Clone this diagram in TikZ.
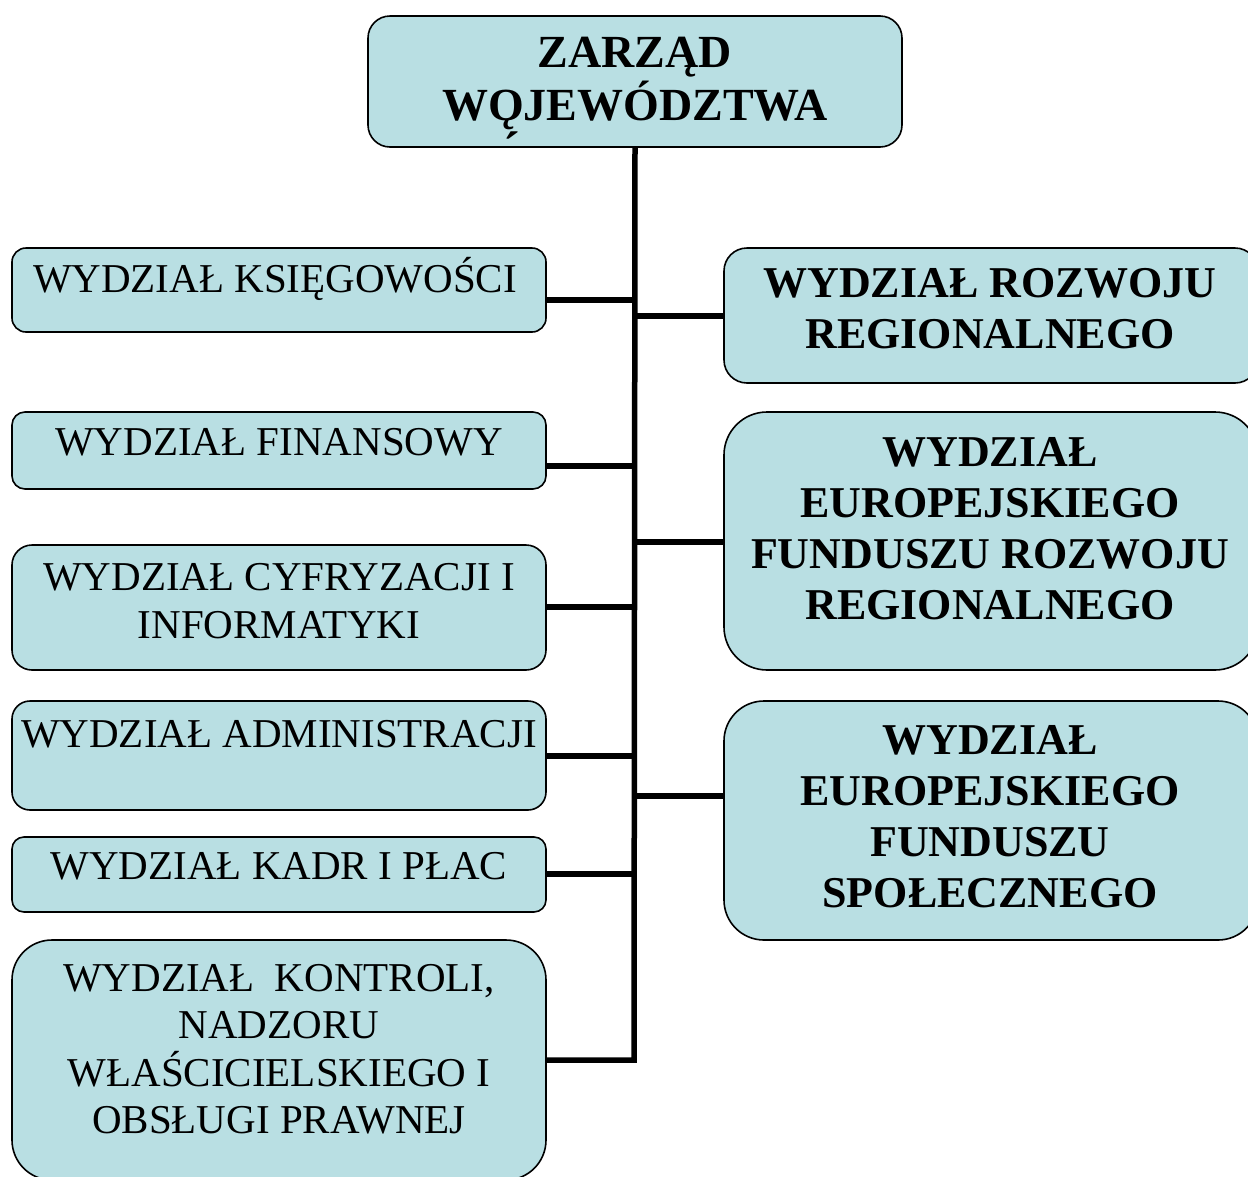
\documentclass[tikz,border=0pt]{standalone}
\usepackage{fontspec}
\setmainfont{Liberation Serif}
\usetikzlibrary{backgrounds}
\definecolor{boxfill}{RGB}{185,223,227}
\begin{document}
\begin{tikzpicture}[x=1pt,y=-1pt,
  box/.style={draw=black, line width=1.6pt, fill=boxfill, inner sep=0pt, rounded corners=#1},
  ltext/.style={align=center, inner sep=0pt, font=\fontsize{41}{47.5}\selectfont},
  rtext/.style={align=center, inner sep=0pt, font=\fontsize{44}{51}\selectfont\bfseries},
  ttext/.style={align=center, inner sep=0pt, font=\fontsize{46}{53}\selectfont\bfseries},
  conn/.style={draw=black, line width=5.5pt, line join=miter}]
\useasboundingbox (0,0) rectangle (1248,1176);
\clip (0,0) rectangle (1248,1176);
% top box
\node[box=22pt, minimum width=534pt, minimum height=131pt] (top) at (635,81.5) {};
\node[ttext] (topT) at (635,83.5) {ZARZĄD\\W\char"01EA JEWÓDZTWA};
\node[inner sep=0pt, font=\fontsize{50}{50}\selectfont\bfseries] (acc) at (512,149) {\char"00B4};
% left boxes
\node[box=14pt, minimum width=534pt, minimum height=84pt] (ksieg) at (279,290) {};
\node[ltext] (ksiegT) at (275,279) {WYDZIAŁ KSIĘGOWOŚCI};
\node[box=13pt, minimum width=534pt, minimum height=77pt] (fin) at (279,450.5) {};
\node[ltext] (finT) at (279,442) {WYDZIAŁ FINANSOWY};
\node[box=20pt, minimum width=534pt, minimum height=125pt] (cyf) at (279,607.5) {};
\node[ltext] (cyfT) at (279,601) {WYDZIAŁ CYFRYZACJI I\\INFORMATYKI};
\node[box=18pt, minimum width=534pt, minimum height=109pt] (adm) at (279,755.5) {};
\node[ltext] (admT) at (279,734) {WYDZIAŁ ADMINISTRACJI};
\node[box=12pt, minimum width=534pt, minimum height=75pt] (kadr) at (279,874.5) {};
\node[ltext] (kadrT) at (279,866) {WYDZIAŁ KADR I PŁAC};
\node[box=40pt, minimum width=534pt, minimum height=240pt] (kont) at (279,1060) {};
\node[ltext] (kontT) at (279,1049) {WYDZIAŁ\ \ KONTROLI,\\NADZORU\\WŁAŚCICIELSKIEGO I\\OBSŁUGI PRAWNEJ};
% right boxes
\node[box=23pt, minimum width=534pt, minimum height=135pt] (roz) at (991,315.5) {};
\node[rtext] (rozT) at (990,309) {WYDZIAŁ ROZWOJU\\REGIONALNEGO};
\node[box=43pt, minimum width=534pt, minimum height=258pt] (efrr) at (991,541) {};
\node[rtext] (efrrT) at (990,529) {WYDZIAŁ\\EUROPEJSKIEGO\\FUNDUSZU ROZWOJU\\REGIONALNEGO};
\node[box=40pt, minimum width=534pt, minimum height=239pt] (efs) at (991,820.5) {};
\node[rtext] (efsT) at (990,817) {WYDZIAŁ\\EUROPEJSKIEGO\\FUNDUSZU\\SPOŁECZNEGO};
% connectors
\begin{scope}[on background layer]
\coordinate (jk) at (634,300);
\coordinate (jf) at (634,466);
\coordinate (jc) at (634,607);
\coordinate (ja) at (634,756);
\coordinate (jd) at (634,874);
\coordinate (jb) at (634,1060);
\coordinate (jr) at (634,316);
\coordinate (je) at (634,542);
\coordinate (js) at (634,796);
\draw[conn] (top.south) -- (jb) -- (kont.east |- jb);
\draw[conn] (ksieg.east |- jk) -- (jk);
\draw[conn] (fin.east |- jf) -- (jf);
\draw[conn] (cyf.east |- jc) -- (jc);
\draw[conn] (adm.east |- ja) -- (ja);
\draw[conn] (kadr.east |- jd) -- (jd);
\draw[conn] (jr) -- (roz.west |- jr);
\draw[conn] (je) -- (efrr.west |- je);
\draw[conn] (js) -- (efs.west |- js);
\end{scope}
\end{tikzpicture}
\end{document}
